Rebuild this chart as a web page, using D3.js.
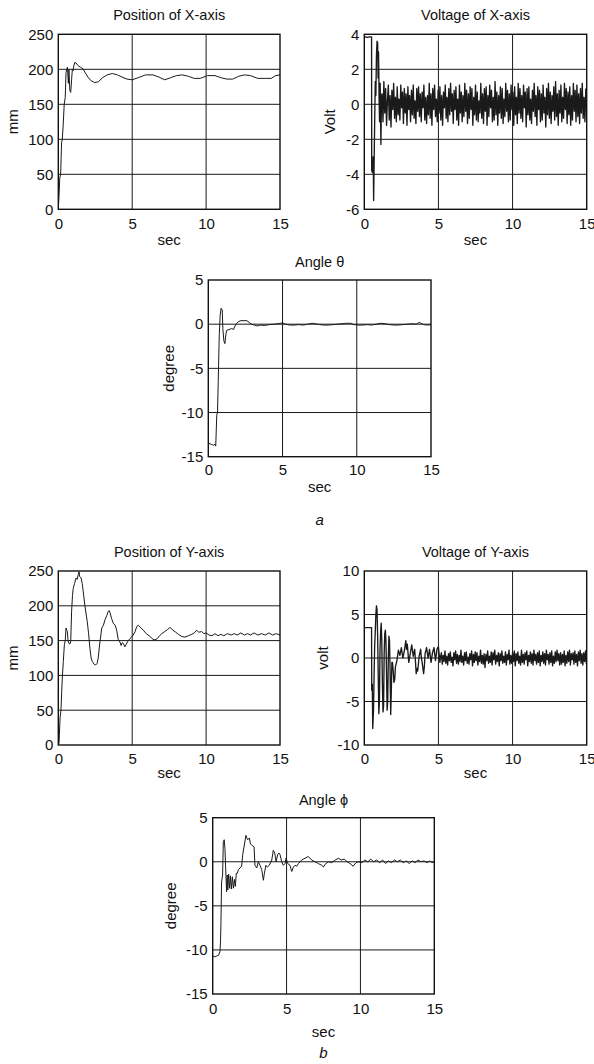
<!DOCTYPE html>
<html><head><meta charset="utf-8">
<script src="https://cdn.jsdelivr.net/npm/d3@7"></script>
<style>body{margin:0;background:#fff}svg{display:block}text{font-family:"Liberation Sans",Arial,sans-serif;fill:#111}</style>
</head><body>
<script>
// ---------- DATA ----------
const xTicks = [0, 5, 10, 15];

const posX = [[0,0],[0.05,20],[0.1,45],[0.16,50],[0.22,95],[0.27,100],[0.33,120],[0.4,150],[0.47,160],[0.52,195],[0.58,200],[0.62,203],[0.68,180],[0.72,200],[0.78,170],[0.84,167],[0.9,185],[0.95,200],[1.0,198],[1.05,205],[1.12,210],[1.2,209],[1.35,205],[1.5,203],[1.65,201],[1.8,196],[2.0,189],[2.2,184],[2.45,181],[2.7,182],[3.0,188],[3.3,192],[3.65,194],[4.0,192],[4.3,189],[4.65,186],[5.0,185],[5.4,188],[5.9,192],[6.4,192],[6.8,189],[7.2,185],[7.6,188],[8.0,191],[8.4,192],[8.8,190],[9.2,187],[9.6,187],[10.1,191],[10.6,191],[11.0,188],[11.4,186],[11.8,186],[12.2,190],[12.6,192],[13.0,191],[13.5,187],[14.0,187],[14.4,187],[14.7,191],[15,192]];
const posXTicks = [0, 50, 100, 150, 200, 250];

const voltXStart = [[0,3.85],[0.05,3.85],[0.2,3.82],[0.35,3.85],[0.49,3.85],[0.5,-3.8],[0.55,-3.9],[0.6,-3.0],[0.63,-5.5],[0.66,-3.5],[0.7,-1.0],[0.74,1.3],[0.78,0.5],[0.82,2.8],[0.86,3.6],[0.9,3.5],[0.93,1.5],[0.96,3.0],[1.0,0.2],[1.03,-1.0],[1.07,1.2],[1.12,-2.3],[1.16,0.5]];
const voltXNoiseT0 = 1.2, voltXNoiseDt = 0.06;
const voltXNoise = [0.6,-1.0,1.3,-0.5,0.9,-1.2,0.2,1.1,-0.9,0.5,
 -1.3,0.8,-0.3,1.2,-0.8,0.4,-1.0,1.0,-0.6,0.3,
 -0.9,1.1,-0.2,0.7,-1.1,0.9,-0.5,0.6,-1.2,1.0,
 -0.3,0.5,-1.0,0.8,-0.6,1.1,-0.8,0.2,-1.1,0.9,
 -0.4,1.0,-0.7,0.6,-1.0,0.7,-0.2,1.1,-0.9,0.4,
 -1.1,0.5,-0.6,1.2,-0.8,0.6,-1.2,0.9,-0.3,1.1,
 -0.7,0.3,-1.0,0.8,-0.5,1.0,-0.9,0.5,-1.2,0.7,
 -0.2,1.1,-0.8,0.4,-1.0,0.9,-0.6,1.2,-0.4,0.6,
 -1.1,0.8,-0.3,1.0,-0.9,0.3,-1.2,1.1,-0.5,0.7,
 -1.0,0.5,-0.7,1.2,-0.4,0.8,-1.1,0.6,-0.8,1.0,
 -0.3,0.9,-1.2,0.4,-0.6,1.1,-0.9,0.7,-1.0,0.2,
 -0.5,1.2,-0.8,0.6,-1.1,0.9,-0.4,1.0,-1.2,0.5,
 -0.7,1.1,-0.2,0.8,-1.0,0.4,-0.9,1.3,-0.6,0.7,
 -1.2,0.5,-0.5,1.0,-0.8,0.9,-1.1,0.3,-0.7,1.2,
 -0.4,0.8,-1.0,0.6,-0.9,1.1,-0.3,0.7,-1.2,1.0,
 -0.6,0.4,-1.1,1.2,-0.5,0.9,-0.8,0.5,-1.0,1.1,
 -0.2,0.7,-1.3,0.9,-0.6,1.0,-0.9,0.3,-1.1,0.8,
 -0.4,1.2,-0.7,0.5,-1.2,1.0,-0.3,0.8,-1.0,0.6,
 -0.9,1.1,-0.5,0.4,-1.3,0.9,-0.6,1.2,-0.8,0.7,
 -1.1,0.5,-0.4,1.0,-0.9,1.3,-0.7,0.6,-1.2,0.8,
 -0.5,1.1,-1.0,0.4,-0.8,1.2,-0.3,0.9,-1.1,0.7,
 -0.6,1.0,-1.2,0.5,-0.9,1.2,-0.4,0.8,-1.0,1.1,
 -0.7,0.6,-1.1,0.9,-0.5,1.2,-0.8,0.4,-1.0,0.9];
const voltXTicks = [-6, -4, -2, 0, 2, 4];

const theta = [[0,-13.6],[0.05,-13.5],[0.2,-13.6],[0.35,-13.7],[0.45,-13.6],[0.5,-13.8],[0.57,-10.3],[0.62,-10.0],[0.67,-6.5],[0.72,-2.5],[0.74,-1.2],[0.8,1.0],[0.86,1.8],[0.94,1.6],[0.98,-0.5],[1.05,-1.9],[1.12,-2.2],[1.18,-1.2],[1.24,-0.7],[1.4,-0.6],[1.58,-0.5],[1.7,-0.6],[1.8,-0.2],[1.91,0.1],[2.05,0.3],[2.2,0.4],[2.4,0.4],[2.6,0.4],[2.75,0.2],[2.9,0.0],[3.1,-0.1],[3.3,-0.2],[3.5,-0.1],[3.8,-0.15],[4.1,-0.05],[4.4,0.0],[4.7,0.05],[5.0,0.15],[5.2,0.0],[5.5,-0.1],[5.8,-0.1],[6.1,-0.05],[6.4,-0.1],[6.7,0.0],[7.0,0.1],[7.2,0.05],[7.5,-0.05],[7.8,-0.1],[8.1,-0.1],[8.4,-0.05],[8.7,0.0],[9.0,0.05],[9.3,0.1],[9.6,0.1],[9.8,-0.05],[10.1,-0.1],[10.4,-0.1],[10.7,-0.05],[11.0,-0.1],[11.3,0.0],[11.6,0.1],[11.9,0.05],[12.2,-0.05],[12.5,-0.1],[12.8,-0.1],[13.1,-0.05],[13.4,0.0],[13.7,0.05],[14.0,0.0],[14.2,0.2],[14.5,-0.05],[14.8,-0.1],[15,-0.05]];
const angleTicks = [-15, -10, -5, 0, 5];

const posY = [[0,0],[0.05,3],[0.12,39],[0.18,50],[0.23,77],[0.28,100],[0.34,120],[0.41,144],[0.47,150],[0.52,168],[0.57,165],[0.61,163],[0.66,150],[0.72,146],[0.78,145],[0.84,148],[0.9,192],[0.96,215],[1.01,225],[1.1,232],[1.2,240],[1.28,238],[1.35,245],[1.4,249],[1.45,242],[1.54,240],[1.62,232],[1.69,220],[1.8,200],[1.96,177],[2.05,160],[2.14,139],[2.22,125],[2.3,120],[2.42,116],[2.53,115],[2.62,117],[2.7,125],[2.8,145],[2.94,168],[3.05,172],[3.16,180],[3.28,186],[3.38,192],[3.45,193],[3.5,190],[3.6,182],[3.72,175],[3.85,172],[3.95,165],[4.05,152],[4.17,148],[4.25,143],[4.32,147],[4.4,146],[4.5,141],[4.58,144],[4.7,149],[4.85,153],[4.95,155],[5.07,158],[5.2,163],[5.3,170],[5.41,172],[5.55,169],[5.75,165],[5.95,160],[6.2,156],[6.4,152],[6.54,151],[6.7,153],[6.85,157],[7.0,160],[7.2,163],[7.4,166],[7.56,169],[7.75,165],[7.95,162],[8.12,159],[8.35,156],[8.57,155],[8.8,157],[9.03,159],[9.2,161],[9.36,165],[9.5,162],[9.7,163],[9.85,160],[10.0,161],[10.2,158],[10.4,157],[10.6,160],[10.8,157],[11.0,159],[11.2,157],[11.45,160],[11.7,158],[11.9,160],[12.1,158],[12.35,161],[12.6,158],[12.8,160],[13.0,158],[13.25,161],[13.5,158],[13.75,160],[14.0,158],[14.25,161],[14.5,158],[14.75,160],[15,158]];
const posYTicks = [0, 50, 100, 150, 200, 250];

const voltYStart = [[0,3.5],[0.3,3.5],[0.49,3.5],[0.5,-3.7],[0.54,-3.0],[0.57,-8.1],[0.62,-6.0],[0.66,-2.0],[0.7,1.5],[0.74,3.0],[0.78,5.0],[0.82,6.0],[0.86,5.5],[0.9,2.5],[0.94,-2.0],[0.98,-6.4],[1.02,-5.0],[1.06,1.0],[1.1,3.0],[1.14,4.0],[1.18,2.0],[1.22,-3.0],[1.26,-6.2],[1.3,-5.5],[1.34,0.5],[1.38,2.8],[1.42,3.2],[1.46,2.0],[1.5,-2.0],[1.54,-6.0],[1.58,-5.0],[1.62,0.0],[1.66,2.5],[1.7,2.0],[1.74,-1.5],[1.78,-6.5],[1.82,-4.0],[1.86,-0.5],[1.9,-0.5],[1.95,-1.5],[2.0,-2.8],[2.05,-2.5],[2.1,-1.0],[2.2,-0.3],[2.3,0.9],[2.4,0.3],[2.5,1.2],[2.6,0.0],[2.7,0.8],[2.8,2.0],[2.85,1.0],[2.9,1.6],[3.0,-0.5],[3.1,0.5],[3.2,1.5],[3.3,0.2],[3.4,1.0],[3.5,-1.8],[3.55,-1.2],[3.6,-1.5],[3.7,0.2],[3.8,1.0],[3.85,0.0],[3.9,-0.5],[4.0,-1.8],[4.05,-1.0],[4.1,0.5],[4.2,1.2],[4.3,0.0],[4.4,1.0],[4.5,-0.5],[4.6,0.6],[4.7,1.2],[4.8,-0.3],[4.9,1.0],[5.0,1.3],[5.1,-0.5],[5.15,0.2]];
const voltYNoiseT0 = 5.2, voltYNoiseDt = 0.06;
const voltYNoise = [0.6,-0.7,0.3,-0.4,0.8,-0.6,0.2,-0.8,0.5,-0.3,
 0.7,-0.5,0.1,-0.9,0.6,-0.2,0.8,-0.6,0.4,-0.7,
 0.3,-0.4,0.9,-0.5,0.2,-0.8,0.6,-0.3,0.7,-0.6,
 0.1,-0.7,0.5,-0.2,0.8,-0.9,0.4,-0.5,0.7,-0.3,
 0.6,-0.8,0.2,-0.4,0.9,-0.6,0.3,-0.7,0.5,-1.1,
 0.4,-0.3,0.8,-0.6,0.2,-0.5,0.7,-0.8,0.6,-0.2,
 0.9,-0.7,0.3,-0.4,0.6,-0.9,0.5,-0.3,0.8,-0.6,
 0.2,-0.5,0.7,-0.8,0.4,-0.2,0.9,-0.7,0.3,-0.6,
 0.6,-0.4,0.8,-0.9,0.5,-0.3,0.7,-0.6,0.2,-0.8,
 0.9,-0.5,0.4,-0.7,0.6,-0.2,0.8,-0.9,0.3,-0.4,
 0.7,-0.6,0.5,-0.8,0.9,-0.3,0.4,-0.7,0.6,-0.5,
 0.8,-0.9,0.3,-0.4,0.7,-0.6,0.5,-0.8,0.9,-0.2,
 0.4,-0.7,0.6,-0.5,0.8,-0.9,0.2,-0.6,0.7,-0.4,
 0.9,-0.3,0.5,-0.8,0.6,-0.7,0.4,-0.5,0.8,-0.9,
 0.3,-0.6,0.7,-0.4,0.9,-0.8,0.5,-0.2,0.6,-0.7,
 0.8,-0.5,0.4,-0.9,0.7,-0.3,0.9,-0.6,0.5,-0.8,
 0.6,-0.4,0.8,-0.7];
const voltYTicks = [-10, -5, 0, 5, 10];

const phi = [[0,-10.6],[0.1,-10.8],[0.25,-10.7],[0.4,-10.6],[0.49,-10.2],[0.53,-9.0],[0.56,-6.8],[0.6,-2.3],[0.67,-1.5],[0.72,2.3],[0.78,2.5],[0.83,1.5],[0.87,-0.4],[0.94,-3.4],[0.98,-1.5],[1.02,-3.2],[1.08,-1.4],[1.14,-3.0],[1.2,-1.6],[1.26,-3.1],[1.33,-1.7],[1.4,-3.0],[1.47,-2.0],[1.53,-2.8],[1.6,-1.3],[1.67,-1.3],[1.74,-0.9],[1.85,-0.7],[1.96,-0.5],[2.03,0.8],[2.14,1.9],[2.25,3.0],[2.31,2.7],[2.37,2.5],[2.48,2.7],[2.56,2.0],[2.64,1.9],[2.72,1.8],[2.8,1.7],[2.86,-0.4],[2.98,-0.7],[3.09,0.0],[3.2,-0.4],[3.32,-0.9],[3.43,-2.1],[3.5,-1.3],[3.6,-0.4],[3.7,-0.6],[3.83,-0.4],[4.0,0.2],[4.1,1.3],[4.2,1.0],[4.29,0.0],[4.4,0.8],[4.48,1.0],[4.56,0.8],[4.67,0.0],[4.78,-0.4],[4.9,-0.2],[4.96,0.4],[5.08,-0.2],[5.23,-0.4],[5.35,-1.1],[5.46,-0.6],[5.57,-0.4],[5.69,-0.5],[5.8,-0.2],[6.02,0.2],[6.25,0.4],[6.47,0.6],[6.7,0.2],[6.93,0.0],[7.15,-0.2],[7.38,-0.4],[7.5,-0.6],[7.6,-0.3],[7.83,0.0],[8.05,-0.1],[8.3,0.2],[8.5,0.4],[8.7,0.2],[8.9,0.3],[9.1,0.0],[9.3,-0.2],[9.5,-0.5],[9.7,-0.1],[9.9,0.0],[10.1,-0.1],[10.3,0.2],[10.5,0.0],[10.7,0.3],[10.9,0.0],[11.1,0.2],[11.3,-0.1],[11.5,0.2],[11.7,-0.2],[11.9,0.1],[12.1,-0.1],[12.3,0.2],[12.5,0.0],[12.7,0.2],[12.9,-0.1],[13.1,0.1],[13.3,-0.2],[13.5,0.1],[13.7,-0.1],[13.9,0.2],[14.1,0.0],[14.3,0.1],[14.5,-0.1],[14.7,0.1],[14.85,-0.1],[15,0.0]];

// ---------- BUILD ----------
function withNoise(start, t0, dt, vals){
  return start.concat(vals.map((v,i)=>[t0+i*dt, v]));
}
const fmt = d => String(d);  // plain hyphen-minus as in the original

const W = 594, H = 1064;
const svg = d3.select("body").append("svg").attr("width", W).attr("height", H);

const panels = [
  {title:"Position of X-axis", ylab:"mm", data:posX, yDom:[0,250], yTicks:posXTicks,
   box:[58.3,34.3,280,209.3], titleY:15, tickY:14, secY:30, ylabX:13, sw:1},
  {title:"Voltage of X-axis", ylab:"Volt", data:withNoise(voltXStart,voltXNoiseT0,voltXNoiseDt,voltXNoise), yDom:[-6,4], yTicks:voltXTicks,
   box:[364.3,34.3,586.7,209.3], titleY:15, tickY:14, secY:30, ylabX:330, sw:1.35},
  {title:"Angle θ", ylab:"degree", data:theta, yDom:[-15,5], yTicks:angleTicks,
   box:[208.3,280,431,456.7], titleY:261.5, tickY:13.5, secY:30, ylabX:168.5, sw:1, sub:"a", subY:520},
  {title:"Position of Y-axis", ylab:"mm", data:posY, yDom:[0,250], yTicks:posYTicks,
   box:[58.3,571,280,745], titleY:551.7, tickY:14, secY:28, ylabX:13, sw:1},
  {title:"Voltage of Y-axis", ylab:"volt", data:withNoise(voltYStart,voltYNoiseT0,voltYNoiseDt,voltYNoise), yDom:[-10,10], yTicks:voltYTicks,
   box:[364.3,571,586.7,745], titleY:551.7, tickY:14, secY:28, ylabX:322.7, sw:1.35},
  {title:"Angle ϕ", ylab:"degree", data:phi, yDom:[-15,5], yTicks:angleTicks,
   box:[212.7,817.7,434.3,994], titleY:800, tickY:15, secY:38, ylabX:170.7, sw:1, sub:"b", subY:1053}
];

panels.forEach((p, idx) => {
  const [x0,y0,x1,y1] = p.box;
  const x = d3.scaleLinear().domain([0,15]).range([x0,x1]);
  const y = d3.scaleLinear().domain(p.yDom).range([y1,y0]);
  const g = svg.append("g");
  const cid = "clip"+idx;
  g.append("clipPath").attr("id",cid).append("rect").attr("x",x0).attr("y",y0).attr("width",x1-x0).attr("height",y1-y0);

  // grid
  g.append("g").selectAll("line").data(xTicks.slice(1,-1)).join("line")
    .attr("x1",d=>x(d)).attr("x2",d=>x(d)).attr("y1",y0).attr("y2",y1)
    .attr("stroke","#1a1a1a").attr("stroke-width",1);
  g.append("g").selectAll("line").data(p.yTicks.slice(1,-1)).join("line")
    .attr("y1",d=>y(d)).attr("y2",d=>y(d)).attr("x1",x0).attr("x2",x1)
    .attr("stroke","#1a1a1a").attr("stroke-width",1);

  // curve
  const line = d3.line().x(d=>x(d[0])).y(d=>y(d[1]));
  g.append("path").datum(p.data).attr("d",line).attr("clip-path",`url(#${cid})`)
    .attr("fill","none").attr("stroke","#1a1a1a").attr("stroke-width",p.sw).attr("stroke-linejoin","round");

  // box
  g.append("rect").attr("x",x0).attr("y",y0).attr("width",x1-x0).attr("height",y1-y0)
    .attr("fill","none").attr("stroke","#111").attr("stroke-width",1.4);

  // tick labels via d3 axes (tick marks hidden)
  const ax = g.append("g").attr("transform",`translate(0,${y1})`)
    .call(d3.axisBottom(x).tickValues(xTicks).tickSize(0).tickPadding(0).tickFormat(fmt));
  ax.select(".domain").remove();
  ax.selectAll("text").attr("y",p.tickY).attr("dy","0.35em").attr("font-size",15).attr("font-family",'"Liberation Sans",Arial,sans-serif').attr("fill","#111");
  const ay = g.append("g").attr("transform",`translate(${x0},0)`)
    .call(d3.axisLeft(y).tickValues(p.yTicks).tickSize(0).tickPadding(5).tickFormat(fmt));
  ay.select(".domain").remove();
  ay.selectAll("text").attr("font-size",15).attr("font-family",'"Liberation Sans",Arial,sans-serif').attr("fill","#111");

  // title
  g.append("text").attr("x",(x0+x1)/2).attr("y",p.titleY).attr("dy","0.35em")
    .attr("text-anchor","middle").attr("font-size",14.5).text(p.title);
  // xlabel
  g.append("text").attr("x",(x0+x1)/2).attr("y",y1+p.secY).attr("dy","0.35em")
    .attr("text-anchor","middle").attr("font-size",15).text("sec");
  // ylabel
  g.append("text").attr("transform",`translate(${p.ylabX},${(y0+y1)/2}) rotate(-90)`).attr("dy","0.35em")
    .attr("text-anchor","middle").attr("font-size",15).text(p.ylab);
  if (p.sub) {
    g.append("text").attr("x",(x0+x1)/2).attr("y",p.subY).attr("dy","0.35em")
      .attr("text-anchor","middle").attr("font-size",15).attr("font-style","italic").text(p.sub);
  }
});
</script>
</body></html>
